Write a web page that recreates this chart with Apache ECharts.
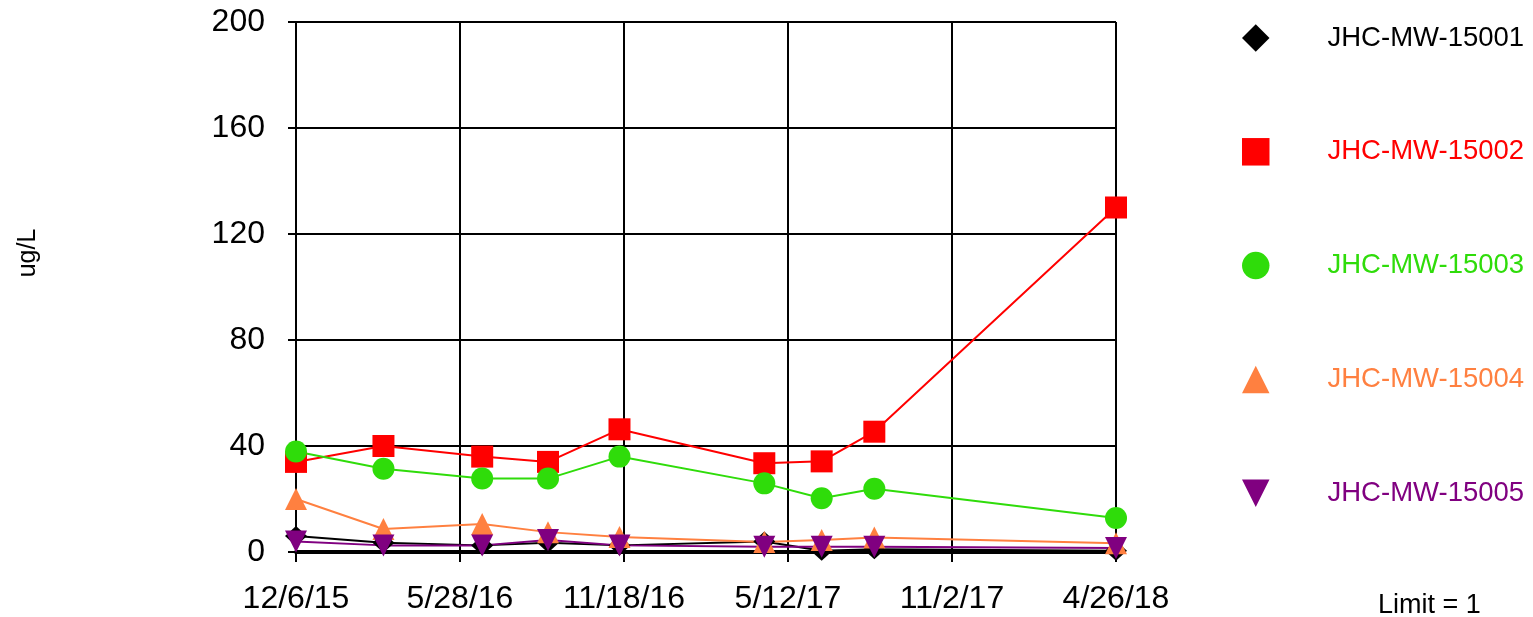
<!DOCTYPE html>
<html>
<head>
<meta charset="utf-8">
<script src="https://cdn.jsdelivr.net/npm/echarts@6/dist/echarts.min.js"></script>
<style>
  html, body { margin: 0; padding: 0; background: #fff; }
  #chart { width: 1533px; height: 617px; }
</style>
</head>
<body>
<div id="chart"></div>
<script>
var myChart = echarts.init(document.getElementById('chart'));

// sample dates (same for every well)
var dates = ['2015-12-06', '2016-03-08', '2016-06-21', '2016-08-30', '2016-11-14',
    '2017-04-17', '2017-06-17', '2017-08-12', '2018-04-26'];

var wells = ['JHC-MW-15001', 'JHC-MW-15002', 'JHC-MW-15003', 'JHC-MW-15004', 'JHC-MW-15005'];

var mw15001 = [6.0, 3.5, 2.5, 3.5, 2.5, 4.0, 0.5, 1.0, 0.5];
var mw15002 = [34, 40, 36, 34, 46.3, 33.5, 34.2, 45.4, 130];
var mw15003 = [37.9, 31.4, 27.7, 27.7, 36, 25.9, 20.3, 23.9, 12.8];
var mw15004 = [20, 8.7, 10.6, 7.5, 5.7, 3.8, 4.5, 5.5, 3.3];
var mw15005 = [4.0, 2.5, 2.5, 4.5, 2.5, 2.0, 2.0, 2.0, 1.5];

var yTicks = [0, 40, 80, 120, 160, 200];

var colors = ['#000000', '#ff0000', '#2fdc0a', '#ff8040', '#800080'];
var downTri = 'path://M0,0L10,0L5,10Z';
var symbols = ['diamond', 'rect', 'circle', 'triangle', downTri];

var DAY = 86400000;
var t0 = Date.parse(dates[0]);
var xDays = dates.map(function (d) {
    return Math.round((Date.parse(d) - t0) / DAY);
});
var xMax = xDays[xDays.length - 1];

function fmtDay(v) {
    var d = new Date(t0 + Math.floor(v + 1e-6) * DAY);
    return (d.getUTCMonth() + 1) + '/' + d.getUTCDate() + '/' + String(d.getUTCFullYear()).slice(2);
}

var allValues = [mw15001, mw15002, mw15003, mw15004, mw15005];
var font = 'Liberation Sans, Arial, sans-serif';

var series = wells.map(function (name, i) {
    return {
        name: name,
        type: 'line',
        data: allValues[i].map(function (v, j) { return [xDays[j], v]; }),
        symbol: symbols[i],
        symbolSize: i === 0 ? [22, 20] : 22,
        lineStyle: { color: colors[i], width: 2 },
        itemStyle: { color: colors[i] },
        animation: false
    };
});

option = {
    animation: false,
    grid: {
        left: 296,
        top: 22,
        width: 820,
        height: 530,
        containLabel: false
    },
    legend: {
        orient: 'vertical',
        left: 1242,
        top: 24,
        padding: 0,
        itemWidth: 27.5,
        itemHeight: 27.5,
        itemGap: 85.8,
        selectedMode: false,
        lineStyle: { width: 0, opacity: 0 },
        textStyle: {
            fontSize: 27.5,
            fontFamily: font,
            lineHeight: 27.5,
            padding: [0, 0, 0, 53]
        },
        data: wells.map(function (n, i) {
            return { name: n, icon: symbols[i], textStyle: { color: colors[i] } };
        })
    },
    xAxis: {
        type: 'value',
        min: 0,
        max: xMax,
        interval: xMax / 5,
        axisLine: { show: true, onZero: false, lineStyle: { color: '#000', width: 4 } },
        axisTick: { show: true, inside: false, length: 10, lineStyle: { color: '#000', width: 2 } },
        axisLabel: {
            margin: 31,
            fontSize: 32,
            fontFamily: font,
            color: '#000',
            showMinLabel: true,
            showMaxLabel: true,
            formatter: fmtDay
        },
        splitLine: { show: true, lineStyle: { color: '#000', width: 2 } }
    },
    yAxis: {
        type: 'value',
        min: yTicks[0],
        max: yTicks[yTicks.length - 1],
        interval: yTicks[1] - yTicks[0],
        axisLine: { show: true, lineStyle: { color: '#000', width: 2 } },
        axisTick: { show: true, inside: false, length: 8, lineStyle: { color: '#000', width: 2 } },
        axisLabel: {
            margin: 31,
            fontSize: 32,
            fontFamily: font,
            color: '#000'
        },
        splitLine: { show: true, lineStyle: { color: '#000', width: 2 } }
    },
    graphic: [{
        type: 'text',
        x: 28,
        y: 253,
        rotation: Math.PI / 2,
        style: {
            text: 'ug/L', fontSize: 25, fontFamily: font, fill: '#000',
            align: 'center', verticalAlign: 'middle'
        }
    }, {
        type: 'text',
        left: 1378,
        top: 592,
        style: { text: 'Limit = 1', fontSize: 27, fontFamily: font, fill: '#000' }
    }],
    series: series
};
myChart.setOption(option);
</script>
</body>
</html>
